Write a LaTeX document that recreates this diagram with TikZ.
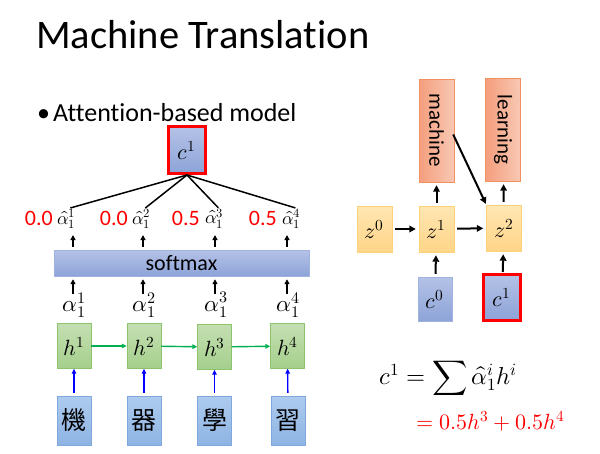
\documentclass[tikz,border=0pt]{standalone}
\usepackage{amsmath,graphicx}
\usepackage{fontspec}
\usepackage{unicode-math}
\setmainfont[Ligatures=NoCommon]{Carlito}
\setmathfont{Latin Modern Math}
\newfontfamily\cjk{Noto Sans CJK TC}
\usetikzlibrary{arrows.meta,positioning,calc}
\definecolor{CtxTop}{HTML}{B4C2E6}
\definecolor{CtxBot}{HTML}{8DA3D8}
\definecolor{CtxLine}{HTML}{9FB2E0}
\definecolor{HidTop}{HTML}{C4DFB2}
\definecolor{HidBot}{HTML}{A5CF8C}
\definecolor{HidLine}{HTML}{8CC46E}
\definecolor{ChTop}{HTML}{ADCBEE}
\definecolor{ChBot}{HTML}{8EB4E3}
\definecolor{ChLine}{HTML}{7FA8DD}
\definecolor{OutDark}{HTML}{F49E7C}
\definecolor{OutLight}{HTML}{F8C8B4}
\definecolor{OutLine}{HTML}{F0915F}
\definecolor{DecTop}{HTML}{FFE6B2}
\definecolor{DecBot}{HTML}{FFD588}
\definecolor{DecLine}{HTML}{FFD27A}
\definecolor{Hred}{HTML}{FF0000}
\definecolor{Hgreen}{HTML}{00B050}
\definecolor{Hblue}{HTML}{0000FF}
\begin{document}
\begin{tikzpicture}[x=1pt,y=-1pt,
ctx/.style={draw=CtxLine,top color=CtxTop,bottom color=CtxBot,minimum width=34pt,minimum height=45pt,inner sep=0pt,font=\fontsize{22}{24}\selectfont},
ctxred/.style={ctx,draw=Hred,line width=3pt,minimum width=37pt,minimum height=47pt},
hid/.style={draw=HidLine,top color=HidTop,bottom color=HidBot,minimum width=34pt,minimum height=45pt,inner sep=0pt,font=\fontsize{22}{24}\selectfont},
chr/.style={draw=ChLine,top color=ChTop,bottom color=ChBot,minimum width=34pt,minimum height=49pt,inner sep=0pt,font=\cjk\fontsize{25}{27}\selectfont},
outw/.style={draw=OutLine,left color=OutDark,right color=OutLight,minimum width=35pt,minimum height=103pt,inner sep=0pt,font=\fontsize{21}{23}\selectfont},
dec/.style={draw=DecLine,top color=DecTop,bottom color=DecBot,minimum width=35pt,minimum height=46pt,inner sep=0pt,font=\fontsize{22}{24}\selectfont},
wgt/.style={text=Hred,font=\fontsize{22}{24}\selectfont,inner sep=0pt,anchor=east},
ahat/.style={font=\fontsize{18}{20}\selectfont,inner sep=0pt,anchor=west},
alph/.style={font=\fontsize{23}{25}\selectfont,inner sep=0pt},
arr/.style={-{Triangle[length=5pt,width=5pt]},line width=1.6pt},
bigarr/.style={-{Triangle[length=6.5pt,width=6.5pt]},line width=2pt,shorten <=3pt,shorten >=3pt},
garr/.style={arr,draw=Hgreen,-{Triangle[length=5pt,width=4.5pt]},line width=1.4pt},
barr/.style={arr,draw=Hblue,-{Triangle[length=5pt,width=4.5pt]},line width=1.4pt},
wire/.style={line width=1.5pt}]
\useasboundingbox (0,0) rectangle (600,453);
% heading
\node[anchor=base west,inner sep=0pt,font=\fontsize{40.5}{42}\selectfont] (title) at (36,48) {Machine Translation};
\node[anchor=base west,inner sep=0pt,font=\fontsize{26}{28}\selectfont] (bullet) at (37,121) {\textbullet\hspace{3pt}Attention-based model};
% encoder side
\node[ctxred] (c1) at (187,150) {$c^1$};
\node[wgt] (w1) at (53,218) {0.0};
\node[wgt] (w2) at (128,218) {0.0};
\node[wgt] (w3) at (200,218) {0.5};
\node[wgt] (w4) at (277,218) {0.5};
\node[ahat] (ah1) at (57,219) {$\hat{\alpha}_1^1$};
\node[ahat] (ah2) at (132,219) {$\hat{\alpha}_1^2$};
\node[ahat] (ah3) at (205,219) {$\hat{\alpha}_1^3$};
\node[ahat] (ah4) at (282,219) {$\hat{\alpha}_1^4$};
\node[draw=CtxLine,top color=CtxTop,bottom color=CtxBot,minimum width=255pt,minimum height=26pt,inner sep=0pt,font=\fontsize{22}{24}\selectfont] (sm) at (181.5,263) {softmax};
\node[alph] (a1) at (74,305) {$\alpha_1^1$};
\node[alph] (a2) at (144,305) {$\alpha_1^2$};
\node[alph] (a3) at (216,305) {$\alpha_1^3$};
\node[alph] (a4) at (288,305) {$\alpha_1^4$};
\node[hid] (h1) at (74,346) {$h^1$};
\node[hid] (h2) at (144,346) {$h^2$};
\node[hid] (h3) at (214.5,347) {$h^3$};
\node[hid] (h4) at (287.5,346) {$h^4$};
\node[chr] (x1) at (74,420.5) {機};
\node[chr] (x2) at (144,420.5) {器};
\node[chr] (x3) at (214.5,420.5) {學};
\node[chr] (x4) at (288,420.5) {習};
\coordinate (t1) at (73,235);\coordinate (t2) at (143,235);
\coordinate (t3) at (215,235);\coordinate (t4) at (287,235);
\draw[wire] (c1.south) -- ($(ah1.north)+(4,-1)$);
\draw[wire] (c1.south) -- ($(ah2.north)+(4,-1)$);
\draw[wire] (c1.south) -- ($(ah3.north)+(4,-1)$);
\draw[wire] (c1.south) -- ($(ah4.north)+(4,-1)$);
\draw[arr] (sm.north -| t1) ++(0,-3) -- (t1);
\draw[arr] (sm.north -| t2) ++(0,-3) -- (t2);
\draw[arr] (sm.north -| t3) ++(0,-3) -- (t3);
\draw[arr] (sm.north -| t4) ++(0,-3) -- (t4);
\draw[arr] ($(a1.north -| t1)+(0,2)$) -- ($(t1 |- sm.south)+(0,3)$);
\draw[arr] ($(a2.north -| t2)+(0,2)$) -- ($(t2 |- sm.south)+(0,3)$);
\draw[arr] ($(a3.north -| t3)+(0,2)$) -- ($(t3 |- sm.south)+(0,3)$);
\draw[arr] ($(a4.north -| t4)+(0,2)$) -- ($(t4 |- sm.south)+(0,3)$);
\draw[garr] (h1) -- (h2);\draw[garr] (h2) -- (h3);\draw[garr] (h3) -- (h4);
\draw[barr,shorten <=3pt] (x1) -- (h1);\draw[barr,shorten <=3pt] (x2) -- (h2);
\draw[barr,shorten <=3pt] (x3) -- (h3);\draw[barr,shorten <=3pt] (x4) -- (h4);
% decoder side
\node[outw] (o1) at (436.5,130.5) {\rotatebox{-90}{machine}};
\node[outw] (o2) at (503,129.5) {\rotatebox{-90}{learning}};
\node[dec] (z0) at (374.5,229) {$z^0$};
\node[dec] (z1) at (436.5,229) {$z^1$};
\node[dec] (z2) at (504,228) {$z^2$};
\node[ctx,minimum height=44pt] (c0) at (435,299) {$c^0$};
\node[ctxred,minimum height=46pt] (c1r) at (502,297.5) {$c^1$};
\draw[bigarr] (z0) -- (z1);\draw[bigarr] (z1) -- (z2);
\draw[bigarr] (z1) -- (o1);\draw[bigarr] (z2) -- (o2);
\draw[bigarr] (c0) -- (z1);\draw[bigarr,shorten <=1pt] (c1r) -- (z2);
\draw[bigarr,shorten <=0pt,shorten >=1pt] ($(o1.east)+(-1,4)$) -- (z2.north west);
% formula
\node[inner sep=0pt,font=\fontsize{24.5}{28}\selectfont] (sum) at (448,378) {$c^1=\displaystyle\sum\hat{\alpha}_1^i h^i$};
\node[anchor=west,inner sep=0pt,text=Hred,font=\fontsize{22}{26}\selectfont] (res) at (416,421) {$=0.5h^3+0.5h^4$};
\end{tikzpicture}
\end{document}
